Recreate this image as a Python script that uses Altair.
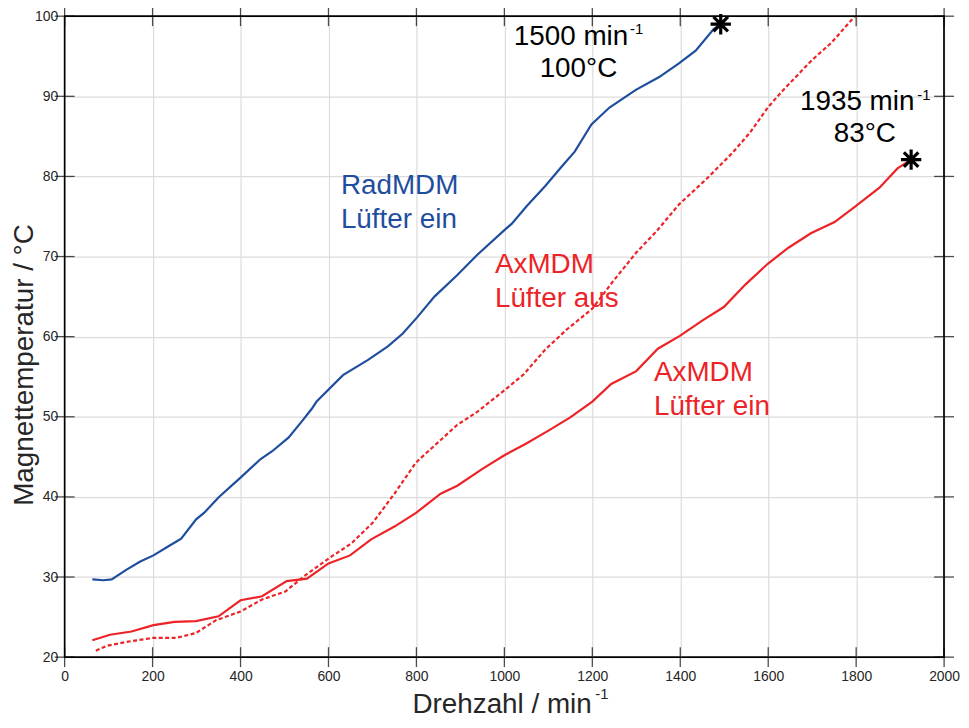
import altair as alt
import pandas as pd

# ---------------- data ----------------
rad_ein_x = [63, 88, 107, 140, 171, 202, 238, 265, 299, 317, 351, 400, 445, 472, 509, 539, 562, 573,
             633, 690, 735, 769, 803, 841, 893, 938, 1000, 1017, 1051, 1093, 1130, 1160, 1198, 1239,
             1299, 1352, 1397, 1435, 1476, 1492]
rad_ein_y = [29.7, 29.6, 29.7, 30.9, 31.9, 32.7, 33.9, 34.8, 37.2, 38.0, 40.0, 42.4, 44.7, 45.7, 47.4,
             49.4, 51.0, 51.9, 55.2, 57.1, 58.8, 60.4, 62.5, 65.0, 67.7, 70.2, 73.3, 74.1, 76.3, 78.8,
             81.2, 83.1, 86.5, 88.6, 90.8, 92.4, 94.1, 95.7, 98.4, 99.0]

ax_ein_x = [63, 103, 152, 202, 250, 299, 350, 400, 449, 505, 551, 600, 649, 697, 750, 799, 855, 893,
            950, 1000, 1051, 1104, 1149, 1200, 1243, 1300, 1349, 1399, 1450, 1499, 1548, 1599, 1646,
            1697, 1751, 1799, 1853, 1894, 1925]
ax_ein_y = [22.1, 22.8, 23.2, 24.0, 24.4, 24.5, 25.1, 27.1, 27.6, 29.5, 29.8, 31.7, 32.7, 34.7, 36.3,
            38.0, 40.4, 41.4, 43.5, 45.2, 46.7, 48.4, 49.9, 51.9, 54.1, 55.7, 58.5, 60.1, 62.0, 63.7,
            66.5, 69.1, 71.1, 72.9, 74.3, 76.3, 78.6, 81.0, 82.1]

ax_aus_x = [71, 95, 140, 201, 253, 298, 344, 400, 449, 502, 547, 600, 652, 701, 750, 799, 893, 938,
            1000, 1044, 1093, 1142, 1200, 1247, 1300, 1345, 1397, 1458, 1518, 1559, 1599, 1631, 1699,
            1744, 1797]
ax_aus_y = [20.8, 21.4, 21.9, 22.4, 22.4, 23.0, 24.6, 25.7, 27.2, 28.2, 30.2, 32.3, 34.2, 36.8, 40.4,
            44.3, 49.0, 50.6, 53.3, 55.3, 58.4, 60.9, 63.5, 66.9, 70.5, 73.1, 76.5, 79.6, 82.9, 85.5,
            88.6, 90.6, 94.5, 96.7, 100.0]

star_x = [1492, 1925]
star_y = [99.0, 82.1]

x_ticks = [0, 200, 400, 600, 800, 1000, 1200, 1400, 1600, 1800, 2000]
y_ticks = [20, 30, 40, 50, 60, 70, 80, 90, 100]

x_title = "Drehzahl / min"
y_title = "Magnettemperatur / °C"
sup = "-1"

# ---------------- style ----------------
W, H = 885, 645
FONT = "Liberation Sans"
BLUE = "#1f4e9e"
RED = "#ec2327"
DARK = "#262626"

xs = alt.Scale(domain=[0, 2000], nice=False, zero=False)
ys = alt.Scale(domain=[20, 100], nice=False, zero=False)
xaxis = alt.Axis(values=x_ticks, format="d", grid=True, gridColor="#dcdcdc", gridWidth=1.2,
                 ticks=False, domain=False, labelFontSize=14, labelFont=FONT, labelColor=DARK,
                 labelPadding=12, title=None, labelFlush=False)
yaxis = alt.Axis(values=y_ticks, format="d", grid=True, gridColor="#dcdcdc", gridWidth=1.2,
                 ticks=False, domain=False, labelFontSize=14, labelFont=FONT, labelColor=DARK,
                 labelPadding=7, title=None, labelFlush=False)
X = alt.X("x:Q", scale=xs, axis=xaxis)
Y = alt.Y("y:Q", scale=ys, axis=yaxis)


def line(xv, yv, color, dash=None):
    df = pd.DataFrame({"x": xv, "y": yv})
    kw = dict(color=color, strokeWidth=2.2, clip=True)
    if dash:
        kw["strokeDash"] = dash
    return alt.Chart(df).mark_line(**kw).encode(x=X, y=Y)


layers = []
layers.append(line(ax_aus_x, ax_aus_y, RED, dash=[4, 2.5]))
layers.append(line(ax_ein_x, ax_ein_y, RED))
layers.append(line(rad_ein_x, rad_ein_y, BLUE))

# frame
one = pd.DataFrame({"k": [0]})
layers.append(alt.Chart(one).mark_rect(fillOpacity=0, stroke="black", strokeWidth=1.5).encode(
    x=alt.value(0), x2=alt.value(W), y=alt.value(0), y2=alt.value(H)))

# inward ticks on all four sides
tx = pd.DataFrame({"x": x_ticks})
ty = pd.DataFrame({"y": y_ticks})
layers.append(alt.Chart(tx).mark_tick(color="black", size=20, thickness=1.3, orient="vertical").encode(
    x=X, y=alt.value(H)))
layers.append(alt.Chart(tx).mark_tick(color="black", size=20, thickness=1.3, orient="vertical").encode(
    x=X, y=alt.value(0)))
layers.append(alt.Chart(ty).mark_tick(color="black", size=20, thickness=1.3, orient="horizontal").encode(
    y=Y, x=alt.value(0)))
layers.append(alt.Chart(ty).mark_tick(color="black", size=20, thickness=1.3, orient="horizontal").encode(
    y=Y, x=alt.value(W)))

star_path = "M-1,0L1,0M0,-1L0,1M-0.71,-0.71L0.71,0.71M-0.71,0.71L0.71,-0.71"
layers.append(alt.Chart(pd.DataFrame({"x": star_x, "y": star_y})).mark_point(
    shape=star_path, size=420, filled=False, stroke="black", strokeWidth=3.2, opacity=1, clip=False
).encode(x=X, y=Y))


def txt(s, x, y, color="black", size=28, angle=0, align="left"):
    return alt.Chart(pd.DataFrame({"t": [s]})).mark_text(
        align=align, baseline="alphabetic", fontSize=size, font=FONT, color=color, angle=angle
    ).encode(x=alt.value(x), y=alt.value(y), text="t:N")


layers += [
    txt("RadMDM", 278, 179, BLUE),
    txt("Lüfter ein", 278, 213, BLUE),
    txt("AxMDM", 433, 258, RED),
    txt("Lüfter aus", 433, 293, RED),
    txt("AxMDM", 593, 367, RED),
    txt("Lüfter ein", 593, 401, RED),
    txt("1500 min", 452, 29),
    txt(sup, 569, 18, size=15),
    txt("100°C", 478, 61),
    txt("1935 min", 740, 94),
    txt(sup, 858, 84, size=15),
    txt("83°C", 774, 127),
    txt(x_title, 350, 701, DARK),
    txt(sup, 534, 687, DARK, size=15),
    txt(y_title, -32, 351, DARK, size=28, angle=270, align="center"),
]

chart = alt.layer(*layers).properties(
    width=W, height=H,
    autosize=alt.AutoSizeParams(type="none"),
    padding={"left": 57, "top": 6, "right": 17, "bottom": 61},
).configure_view(stroke="black", strokeWidth=1.5)

chart.save("out.html", embed_options={"renderer": "svg", "actions": False})
